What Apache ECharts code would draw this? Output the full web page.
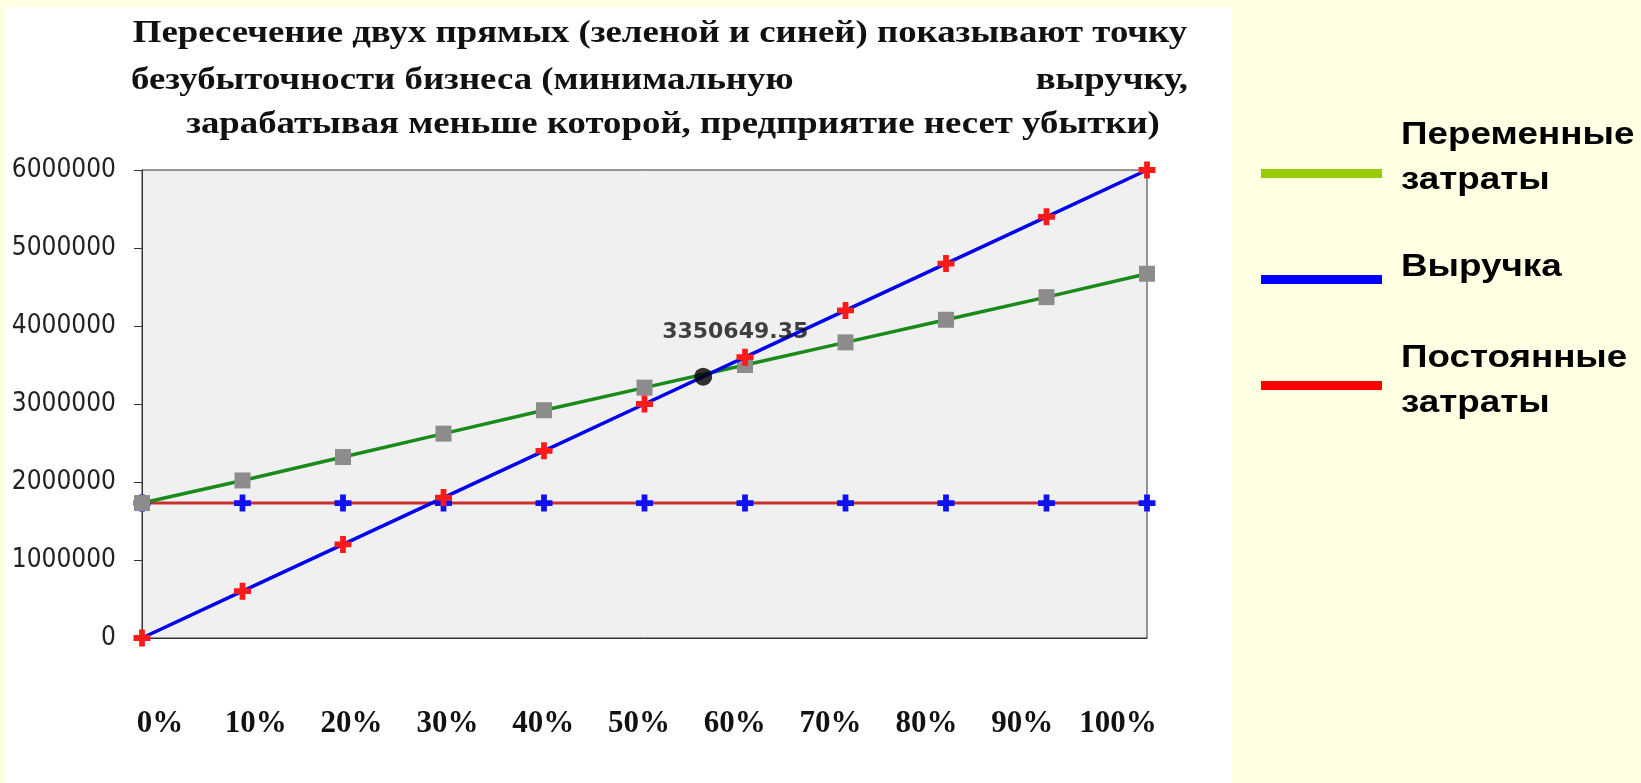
<!DOCTYPE html>
<html>
<head>
<meta charset="utf-8">
<script src="https://cdn.jsdelivr.net/npm/echarts@6/dist/echarts.min.js"></script>
<style>
html,body{margin:0;padding:0;background:#FFFFE3;}
#main{position:absolute;left:0;top:0;width:1641px;height:783px;}
</style>
</head>
<body>
<div id="main"></div>
<script>
// ---- data ----
var shares = [0, 10, 20, 30, 40, 50, 60, 70, 80, 90, 100];
var xTickLabels = ['0%', '10%', '20%', '30%', '40%', '50%', '60%', '70%', '80%', '90%', '100%'];
var totalCosts = [1730000, 2020000, 2320000, 2620000, 2920000, 3210000, 3500000, 3790000, 4080000, 4370000, 4670000];
var revenue = [0, 600000, 1200000, 1800000, 2400000, 3000000, 3600000, 4200000, 4800000, 5400000, 6000000];
var fixedCosts = [1730000, 1730000, 1730000, 1730000, 1730000, 1730000, 1730000, 1730000, 1730000, 1730000, 1730000];
var breakEvenShare = 55.84;
var breakEvenValue = 3350649.35;
var yTicks = [0, 1000000, 2000000, 3000000, 4000000, 5000000, 6000000];
var titleLines = [
  'Пересечение двух прямых (зеленой и синей) показывают точку',
  'безубыточности бизнеса (минимальную',
  'выручку,',
  'зарабатывая меньше которой, предприятие несет убытки)'
];
var legendNames = ['Переменные\nзатраты', 'Выручка', 'Постоянные\nзатраты'];

function pairs(xs, ys){ return xs.map(function(x,i){ return [x, ys[i]]; }); }

var plusPath = 'path://M3.3,0h3.4v3.3h3.3v3.4h-3.3v3.3h-3.4v-3.3h-3.3v-3.4h3.3z';
var serifFont = '"Liberation Serif","Times New Roman",serif';
var sansFont = '"Liberation Sans",Arial,sans-serif';
var stretch = 1.15;

function txt(s, x, y, align, font, extra){
  var st = {text:s, x:0, y:0, textAlign:align, textVerticalAlign:'middle', font:font, fill:'#111111'};
  if (extra) for (var k in extra) st[k] = extra[k];
  return {type:'text', x:x, y:y, scaleX:stretch, scaleY:1, style:st};
}

var chart = echarts.init(document.getElementById('main'), null, {renderer:'canvas'});
var titleFont = 'bold 32px ' + serifFont;
var legendFont = 'bold 32px ' + sansFont;
var option = {
  backgroundColor: '#FFFFE3',
  animation: false,
  graphic: [
    {type:'rect', z:-10, shape:{x:6, y:7, width:1226, height:776}, style:{fill:'#ffffff'}},
    txt(titleLines[0], 660, 34, 'center', titleFont),
    txt(titleLines[1], 131, 81, 'left', titleFont),
    txt(titleLines[2], 1188, 81, 'right', titleFont),
    txt(titleLines[3], 673, 125, 'center', titleFont),
    {type:'rect', shape:{x:1261, y:169, width:121, height:9}, style:{fill:'#99CC00'}},
    {type:'rect', shape:{x:1261, y:275, width:121, height:9}, style:{fill:'#0000FF'}},
    {type:'rect', shape:{x:1261, y:381, width:121, height:9}, style:{fill:'#FF0000'}},
    txt(legendNames[0], 1401, 158, 'left', legendFont, {lineHeight:45, fill:'#000'}),
    txt(legendNames[1], 1401, 267, 'left', legendFont, {lineHeight:45, fill:'#000'}),
    txt(legendNames[2], 1401, 381, 'left', legendFont, {lineHeight:45, fill:'#000'})
  ],
  grid: [
    {left:142, top:170, width:1005, height:468, show:true, backgroundColor:'#F0F0F0', borderColor:'#333', borderWidth:1},
    {left:160, top:702, width:958, height:1, show:false}
  ],
  xAxis: [
    {type:'value', gridIndex:0, min:0, max:100, interval:10, axisLine:{show:true, lineStyle:{color:'#333'}}, axisTick:{show:false}, axisLabel:{show:false}, splitLine:{show:false}},
    {type:'category', gridIndex:1, boundaryGap:false, data:xTickLabels, axisLine:{show:false}, axisTick:{show:false},
      axisLabel:{interval:0, margin:5, fontFamily:serifFont, fontWeight:'bold', fontSize:31, color:'#111'}}
  ],
  yAxis: [
    {type:'value', gridIndex:0, min:yTicks[0], max:yTicks[yTicks.length-1], interval:1000000,
      axisLine:{show:true, lineStyle:{color:'#333'}}, axisTick:{show:true, length:8, lineStyle:{color:'#333'}},
      splitLine:{show:false},
      axisLabel:{margin:26, formatter:function(v){ return String(v); },
        fontFamily:'"DejaVu Sans Condensed","DejaVu Sans",sans-serif', fontSize:26, color:'#222'}},
    {type:'value', gridIndex:1, show:false}
  ],
  series: [
    {name:'Постоянные затраты', type:'line', data:pairs(shares, fixedCosts), z:2,
      lineStyle:{color:'#C83030', width:3}, symbol:plusPath, symbolSize:17, itemStyle:{color:'#1010F0'}},
    {name:'Переменные затраты', type:'line', data:pairs(shares, totalCosts), z:3,
      lineStyle:{color:'#1A8A1A', width:3.5}, symbol:'rect', symbolSize:16, itemStyle:{color:'#8C8C8C'}},
    {name:'Выручка', type:'line', data:pairs(shares, revenue), z:4,
      lineStyle:{color:'#0000EE', width:3.5}, symbol:plusPath, symbolSize:17, itemStyle:{color:'#FF1A1A'}},
    {name:'Точка безубыточности', type:'scatter', data:[[breakEvenShare, breakEvenValue]], z:5,
      symbol:'circle', symbolSize:18, itemStyle:{color:'#000'},
      label:{show:true, position:'top', distance:5, offset:[32,-19], formatter:function(p){ return p.value[1].toFixed(2); },
        fontFamily:'"DejaVu Sans",sans-serif', fontWeight:'bold', fontSize:22, color:'#111', textBorderWidth:0}}
  ]
};
chart.setOption(option);
</script>
</body>
</html>
